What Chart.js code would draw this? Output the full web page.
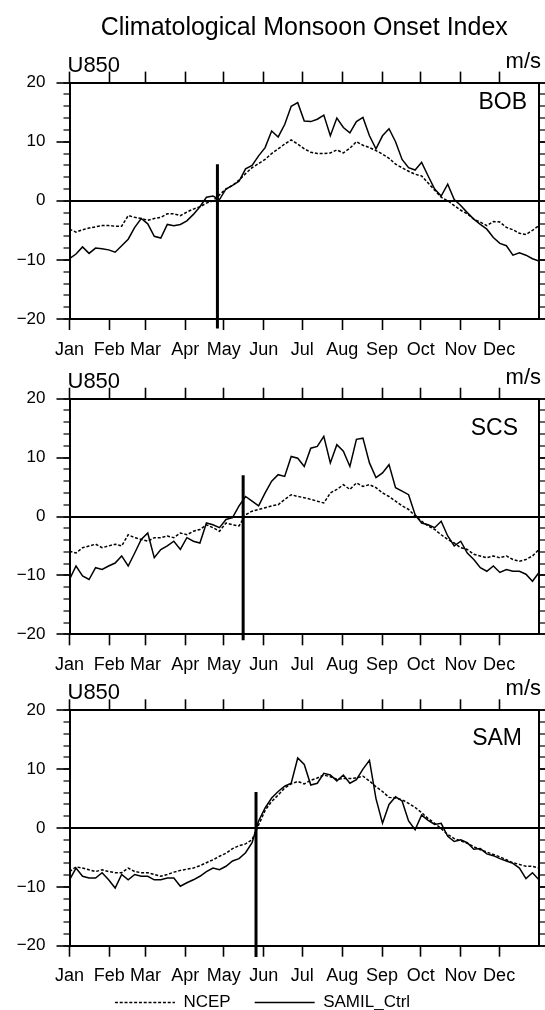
<!DOCTYPE html>
<html>
<head>
<meta charset="utf-8">
<title>Climatological Monsoon Onset Index</title>
<script src="https://cdn.jsdelivr.net/npm/chart.js@4.4.1/dist/chart.umd.min.js"></script>
<style>
  html, body { margin: 0; padding: 0; background: #fff; overflow: hidden; }
  body { width: 545px; height: 1010px; position: relative; }
  .panel { position: absolute; left: -20px; width: 565px; }
</style>
</head>
<body>
<div class="panel" style="top:0;height:362px"><canvas id="bob"></canvas></div>
<div class="panel" style="top:362px;height:315px"><canvas id="scs"></canvas></div>
<div class="panel" style="top:677px;height:344px"><canvas id="sam"></canvas></div>
<script>
// month axis
const monthNames = ['Jan', 'Feb', 'Mar', 'Apr', 'May', 'Jun', 'Jul', 'Aug', 'Sep', 'Oct', 'Nov', 'Dec'];
const monthStarts = [0, 31, 59, 90, 120, 151, 181, 212, 243, 273, 304, 334];

// U850 index, 73 samples through the year (m/s)
const bobNcep = [-4.8, -5.3, -4.9, -4.6, -4.4, -4.2, -4.2, -4.3, -4.3, -2.5,
  -2.8, -3.0, -3.3, -3.0, -2.8, -2.2, -2.2, -2.5, -1.9, -1.4,
  -1.0, -0.4, 0.0, 1.0, 2.0, 2.6, 3.5, 4.6, 5.6, 6.3,
  7.0, 8.0, 8.8, 9.6, 10.3, 9.6, 8.8, 8.2, 8.0, 8.0,
  8.1, 8.6, 8.1, 8.9, 10.0, 9.4, 9.0, 8.5, 7.9, 7.2,
  6.2, 5.6, 5.0, 4.5, 4.2, 3.0, 1.8, 0.6, 0.0, -0.8,
  -1.6, -2.2, -3.1, -3.6, -4.2, -3.5, -3.6, -4.5, -4.9, -5.5,
  -5.7, -5.0, -4.2];
const bobSamil = [-9.8, -9.0, -7.8, -8.9, -8.0, -8.1, -8.3, -8.7, -7.6, -6.5,
  -4.5, -3.0, -3.9, -6.0, -6.3, -4.0, -4.2, -4.0, -3.4, -2.3,
  -1.0, 0.6, 0.8, 0.2, 2.0, 2.6, 3.3, 5.4, 6.0, 7.6,
  9.0, 11.8, 10.8, 12.9, 16.0, 16.6, 13.5, 13.4, 13.8, 14.5,
  11.0, 14.0, 12.4, 11.5, 13.4, 14.1, 11.0, 8.8, 11.0, 12.2,
  10.0, 7.0, 5.6, 5.2, 6.5, 4.2, 2.0, 0.8, 2.8, 0.2,
  -0.8, -2.0, -3.1, -4.0, -4.8, -6.2, -7.2, -7.6, -9.2, -8.8,
  -9.2, -9.8, -10.2];
const scsNcep = [-5.9, -6.2, -5.3, -5.0, -4.7, -5.3, -5.0, -4.7, -5.0, -3.1,
  -3.6, -3.9, -4.2, -3.6, -3.6, -3.3, -3.6, -2.8, -3.1, -2.5,
  -2.2, -1.4, -1.9, -2.5, -1.1, -1.4, -1.6, 0.3, 0.9, 1.2,
  1.5, 1.8, 2.0, 2.9, 3.7, 3.4, 3.2, 2.9, 2.6, 2.3,
  4.0, 4.6, 5.4, 4.6, 5.7, 5.1, 5.4, 4.9, 4.0, 3.4,
  2.6, 1.8, 1.2, 0.1, -0.8, -1.6, -2.2, -3.1, -3.9, -4.5,
  -5.3, -5.6, -6.4, -6.7, -7.0, -6.7, -7.0, -6.7, -7.3, -7.6,
  -7.3, -6.7, -5.6];
const scsSamil = [-10.7, -8.4, -10.1, -10.7, -8.7, -9.0, -8.4, -7.9, -6.7, -8.4,
  -6.2, -3.9, -2.8, -7.0, -5.6, -5.0, -4.2, -5.6, -3.6, -4.2,
  -4.5, -1.1, -1.4, -1.9, -0.5, -0.2, 1.8, 3.4, 2.6, 1.8,
  4.0, 6.0, 7.1, 6.8, 10.2, 9.9, 8.5, 11.6, 11.9, 13.6,
  9.1, 12.2, 11.1, 8.5, 13.1, 13.3, 9.1, 6.6, 7.4, 8.8,
  4.9, 4.3, 3.7, 0.3, -1.1, -1.4, -1.9, -0.8, -3.3, -5.0,
  -4.2, -6.2, -7.3, -8.7, -9.3, -8.4, -9.5, -9.0, -9.3, -9.3,
  -9.8, -11.0, -9.5];
const samNcep = [-7.4, -6.6, -6.8, -7.1, -7.4, -7.1, -7.4, -7.6, -7.6, -6.8,
  -7.4, -7.6, -7.6, -7.9, -8.2, -7.9, -7.5, -7.2, -7.0, -6.8,
  -6.4, -5.9, -5.4, -4.8, -4.3, -3.5, -3.0, -2.7, -2.0, 0.5,
  3.0, 4.5, 5.6, 6.8, 7.5, 7.9, 7.5, 8.1, 8.5, 9.0,
  8.7, 8.3, 8.4, 8.4, 8.5, 8.8, 8.0, 7.0, 6.2, 5.2,
  5.1, 4.8, 4.2, 3.5, 2.6, 1.6, 0.8, -0.1, -1.1, -1.8,
  -2.2, -2.6, -3.2, -3.7, -4.1, -4.5, -4.9, -5.4, -5.9, -6.2,
  -6.5, -6.5, -6.8];
const samSamil = [-8.8, -6.8, -8.2, -8.5, -8.5, -7.6, -8.8, -10.2, -7.9, -8.8,
  -7.9, -8.2, -8.2, -8.8, -8.8, -8.5, -8.5, -9.9, -9.3, -8.8,
  -8.2, -7.4, -6.8, -7.1, -6.5, -5.6, -5.2, -4.2, -2.5, 1.2,
  3.4, 5.1, 6.2, 7.1, 7.6, 11.9, 10.8, 7.3, 7.6, 9.3,
  9.0, 8.0, 9.0, 7.6, 8.2, 10.0, 11.5, 5.0, 0.8, 4.0,
  5.3, 4.6, 1.2, -0.3, 2.2, 1.3, 0.6, 0.8, -1.4, -2.3,
  -2.0, -2.5, -3.6, -3.5, -4.4, -4.7, -5.2, -5.6, -6.0, -6.8,
  -8.6, -7.6, -8.8];

// onset marker: day of year, and the span of the vertical bar (m/s)
const onsetDay = [115, 135, 145];
const onsetTop = [6.2, 7.0, 6.1];
const onsetBottom = [-21.6, -21.0, -21.9];

const FONT = '"Liberation Sans", Arial, Helvetica, sans-serif';
Chart.defaults.font.family = FONT;
Chart.defaults.color = '#000';

// samples are spread evenly over the 365-day axis
function toPoints(values) {
    const step = 365 / (values.length - 1);
    return values.map((v, i) => ({ x: i * step, y: v }));
}

// U850 / m/s above the frame, region name inside
const panelText = {
    id: 'panelText',
    afterDraw(chart, args, opts) {
        const { ctx, chartArea, scales } = chart;
        ctx.save();
        ctx.fillStyle = '#000';
        ctx.textBaseline = 'alphabetic';
        ctx.font = '22px ' + FONT;
        ctx.textAlign = 'left';
        ctx.fillText('U850', chartArea.left - 2, chartArea.top - 11);
        ctx.textAlign = 'right';
        ctx.fillText('m/s', chartArea.right + 2, chartArea.top - 15);
        ctx.font = '23px ' + FONT;
        ctx.textBaseline = 'middle';
        ctx.fillText(opts.region,
            scales.x.getPixelForValue(opts.at[0]),
            scales.y.getPixelForValue(opts.at[1]));
        ctx.restore();
    }
};

// tight: the axis box is shorter than its labels (legend sits right under it),
// so the labels are drawn "mirrored" with a negative padding to avoid clipping
function monthAxis(position, showLabels, height, tight) {
    return {
        type: 'linear',
        position: position,
        min: 0,
        max: 365,
        afterBuildTicks: (axis) => { axis.ticks = monthStarts.map(v => ({ value: v })); },
        afterFit: (axis) => { axis.height = height; },
        grid: { drawOnChartArea: false, tickLength: 11, tickWidth: 1.6, tickColor: '#000' },
        border: { color: '#000', width: 2 },
        ticks: {
            display: showLabels,
            autoSkip: false,
            maxRotation: 0,
            mirror: !!tight,
            padding: tight ? -41.6 : 9,
            font: { size: 18 },
            callback: (value) => monthNames[monthStarts.indexOf(value)]
        }
    };
}

function valueAxis(position, major, width) {
    return {
        type: 'linear',
        position: position,
        weight: major ? 1 : 0,
        min: -20,
        max: 20,
        afterFit: (axis) => { axis.width = width; },
        grid: {
            drawOnChartArea: major && position === 'left',
            color: (c) => (c.tick && c.tick.value === 0) ? '#000' : 'rgba(0,0,0,0)',
            lineWidth: 2,
            tickLength: major ? 13 : 6,
            tickWidth: major ? 1.6 : 1.2,
            tickColor: '#000'
        },
        border: { display: major, color: '#000', width: 2 },
        ticks: {
            stepSize: major ? 10 : 2,
            display: major && position === 'left',
            padding: 11,
            font: { size: 17 },
            callback: (value) => value < 0 ? '\u2212' + Math.abs(value) : String(value)
        }
    };
}

// legend items take their dash and width from the line datasets
function legendLabels(chart) {
    const items = Chart.defaults.plugins.legend.labels.generateLabels(chart);
    return items.filter(item => item.datasetIndex < 2).map(function (item) {
        const ds = chart.data.datasets[item.datasetIndex];
        item.lineDash = ds.borderDash || [];
        item.lineWidth = ds.borderWidth;
        item.strokeStyle = ds.borderColor;
        return item;
    });
}

const panels = [
    { id: 'bob', region: 'BOB', ncep: bobNcep, samil: bobSamil, at: [355.7, 16.6], top: 39.6, bottom: 43, title: true, legend: false },
    { id: 'scs', region: 'SCS', ncep: scsNcep, samil: scsSamil, at: [348.7, 14.9], top: 36.7, bottom: 42.7, title: false, legend: false },
    { id: 'sam', region: 'SAM', ncep: samNcep, samil: samSamil, at: [351.8, 15.2], top: 33.3, bottom: 24.3, title: false, legend: true }
];

panels.forEach(function (p, k) {
    const ctx = document.getElementById(p.id).getContext('2d');

    const data = {
        datasets: [
            {
                label: 'NCEP',
                data: toPoints(p.ncep),
                borderColor: '#000',
                borderWidth: 1.5,
                borderDash: [3, 1.8],
                pointRadius: 0,
                tension: 0,
                fill: false
            },
            {
                label: 'SAMIL_Ctrl',
                data: toPoints(p.samil),
                borderColor: '#000',
                borderWidth: 1.5,
                pointRadius: 0,
                tension: 0,
                fill: false
            },
            {
                label: 'onset',
                data: [{ x: onsetDay[k], y: onsetTop[k] }, { x: onsetDay[k], y: onsetBottom[k] }],
                borderColor: '#000',
                borderWidth: 3,
                pointRadius: 0,
                clip: false
            }
        ]
    };

    new Chart(ctx, {
        type: 'line',
        data: data,
        plugins: [panelText],
        options: {
            responsive: true,
            maintainAspectRatio: false,
            animation: false,
            events: [],
            layout: { padding: 0 },
            scales: {
                x: monthAxis('bottom', true, p.bottom, p.legend),
                xTop: monthAxis('top', false, p.top, false),
                y: valueAxis('left', true, 89.5),
                yMinor: valueAxis('left', false, 0),
                yRight: valueAxis('right', true, 6),
                yRightMinor: valueAxis('right', false, 0)
            },
            plugins: {
                panelText: { region: p.region, at: p.at },
                tooltip: { enabled: false },
                title: {
                    display: p.title,
                    text: 'Climatological Monsoon Onset Index',
                    fullSize: false,
                    color: '#000',
                    font: { size: 25, weight: 'normal' },
                    padding: { top: 13, bottom: 0 }
                },
                legend: {
                    display: p.legend,
                    position: 'bottom',
                    labels: {
                        usePointStyle: true,
                        pointStyle: 'line',
                        pointStyleWidth: 60,
                        padding: 24,
                        color: '#000',
                        font: { size: 17 },
                        generateLabels: legendLabels
                    }
                }
            }
        }
    });
});
</script>
</body>
</html>
